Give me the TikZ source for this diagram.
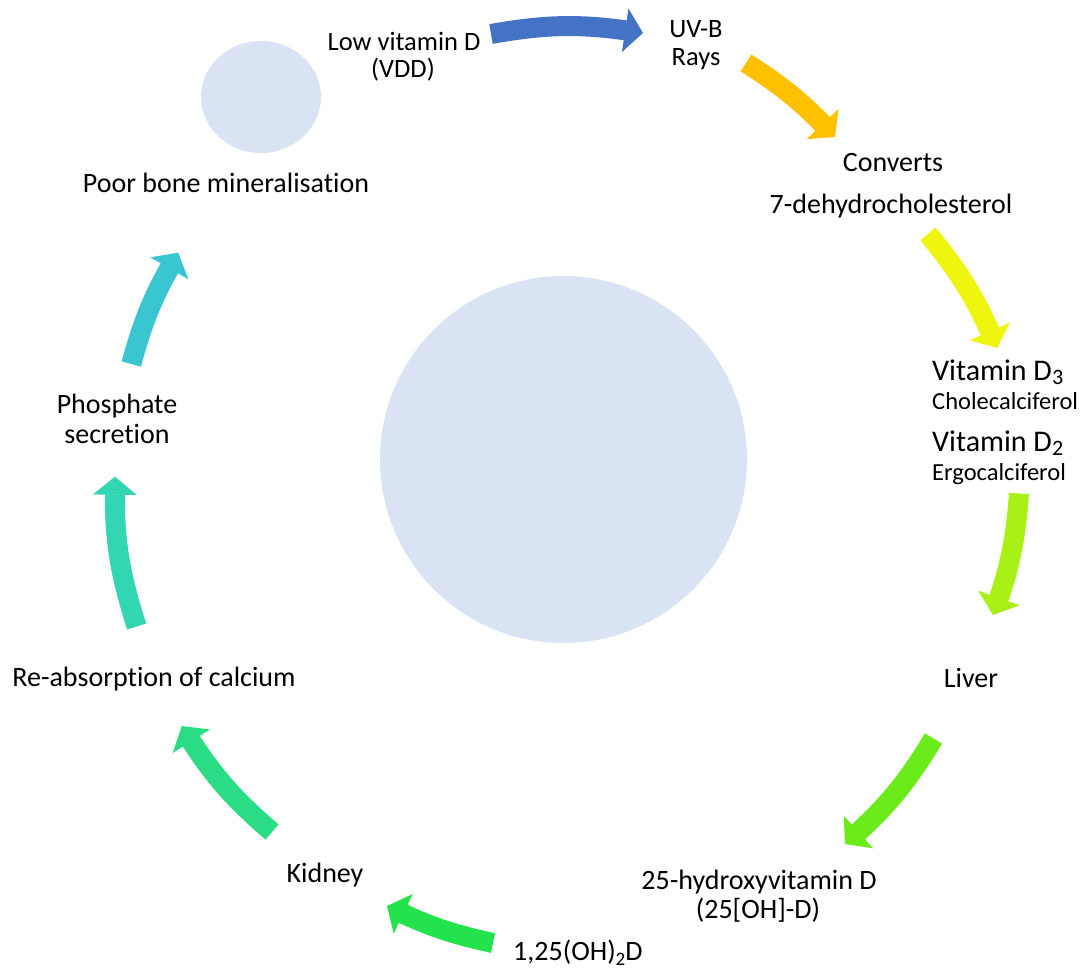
\documentclass[tikz,border=0pt]{standalone}
\usepackage{fontspec}
\setmainfont{Carlito}[Ligatures={NoCommon}]
\usetikzlibrary{arrows.meta,bending}

\definecolor{discfill}{HTML}{DAE3F3}
\definecolor{cA}{HTML}{4472C4}
\definecolor{cB}{HTML}{FFC000}
\definecolor{cC}{HTML}{EEF50F}
\definecolor{cD}{HTML}{A8F016}
\definecolor{cE}{HTML}{6BEB1A}
\definecolor{cF}{HTML}{24E24C}
\definecolor{cG}{HTML}{2ADC84}
\definecolor{cH}{HTML}{33D6B2}
\definecolor{cI}{HTML}{3AC6D0}

% subscript with explicit size and drop (kept out of the line's height/depth)
\newcommand\lowsub[3]{\raisebox{-#2}[0pt][0pt]{\fontsize{#1}{#1}\selectfont #3}}

\begin{document}
\begin{tikzpicture}[x=1pt,y=1pt,
  lbl/.style={inner sep=0pt, anchor=base, text=black,
              font=\fontsize{28}{30}\selectfont},
  lblsmall/.style={lbl, font=\fontsize{26.5}{28}\selectfont},
  vitbig/.style={inner sep=0pt, anchor=base west, font=\fontsize{30}{32}\selectfont},
  vitsub/.style={inner sep=0pt, anchor=base west, font=\fontsize{24.5}{26}\selectfont},
  cycarrow/.style={line width=20pt,
     -{Triangle[width=44pt,length=18pt,line width=0pt]}},
  disc/.style={fill=discfill, draw=none}]

\useasboundingbox (0,0) rectangle (1088,-969);

% background discs
\fill[disc] (563.5,-459.5) circle[radius=183.5];
\fill[disc] (261,-97) ellipse[x radius=60, y radius=56];

% labels
\node[lblsmall] (lowvd)  at (404,-50)  {Low vitamin D};
\node[lblsmall] (vdd)    at (403,-77)  {(VDD)};
\node[lblsmall] (uvb)    at (696,-37)  {UV-B};
\node[lblsmall] (rays)   at (696,-65)  {Rays};
\node[lbl] (converts)    at (893,-171) {Converts};
\node[lbl] (dehydro)     at (891,-213) {7-dehydrocholesterol};
\node[vitbig] (vitd3)    at (932,-380) {Vitamin D\lowsub{22}{4pt}{3}};
\node[vitsub] (chole)    at (932,-409) {Cholecalciferol};
\node[vitbig] (vitd2)    at (932,-451) {Vitamin D\lowsub{22}{4pt}{2}};
\node[vitsub] (ergo)     at (932,-480) {Ergocalciferol};
\node[lbl] (liver)       at (971,-687) {Liver};
\node[lbl] (hydroxy)     at (759,-889) {25-hydroxyvitamin D};
\node[lbl] (ohd)         at (758,-918) {(25[OH]-D)};
\node[lbl, anchor=base west] (calcitriol) at (513,-960) {1,25(OH)\lowsub{19}{5pt}{2}D};
\node[lbl] (kidney)      at (325,-882) {Kidney};
\node[lbl] (reabs)       at (154,-686) {Re-absorption of calcium};
\node[lbl] (phos)        at (117,-413) {Phosphate};
\node[lbl] (secr)        at (117,-443) {secretion};
\node[lbl] (poor)        at (226,-192) {Poor bone mineralisation};

% arrow ends
\coordinate (t1) at (491,-34);     \coordinate (h1) at (643,-33);
\coordinate (t2) at (746,-63);     \coordinate (h2) at (835,-137);
\coordinate (t3) at (928,-234);    \coordinate (h3) at (997,-348);
\coordinate (t4) at (1019,-493.5); \coordinate (h4) at (993,-615);
\coordinate (t5) at (933.5,-738.5);\coordinate (h5) at (845,-844);
\coordinate (t6) at (493,-943);    \coordinate (h6) at (387,-906);
\coordinate (t7) at (272,-832);    \coordinate (h7) at (181.7,-726);
\coordinate (t8) at (136.7,-626.5);\coordinate (h8) at (115,-476.7);
\coordinate (t9) at (131.3,-364);  \coordinate (h9) at (178.3,-252.7);

% cycle arrows
\draw[cycarrow, cA] (t1) to[bend left=9.6] (h1);
\draw[cycarrow, cB] (t2) to[bend left=7.3] (h2);
\draw[cycarrow, cC] (t3) to[bend left=8.4] (h3);
\draw[cycarrow, cD] (t4) to[bend left=7.9] (h4);
\draw[cycarrow, cE] (t5) to[bend left=8.7] (h5);
\draw[cycarrow, cF] (t6) to[bend left=7.1] (h6);
\draw[cycarrow, cG] (t7) to[bend left=8.8] (h7);
\draw[cycarrow, cH] (t8) to[bend left=9.6] (h8);
\draw[cycarrow, cI] (t9) to[bend left=7.7] (h9);
\end{tikzpicture}
\end{document}
